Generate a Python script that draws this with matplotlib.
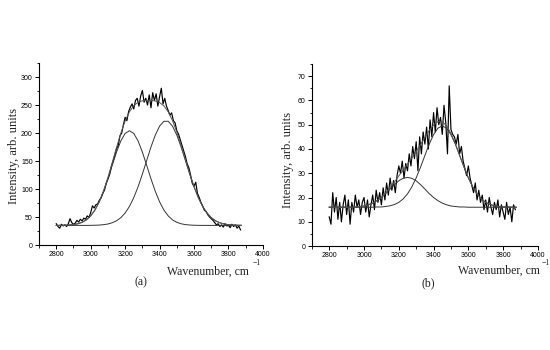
import matplotlib
matplotlib.use("Agg")
import matplotlib.pyplot as plt
from matplotlib.ticker import MultipleLocator

# ---------------- data ----------------
# fit curves sampled every 25 cm^-1 from 2800 to 3875
fit_x = list(range(2800, 3876, 25))

a_comp1 = [35.0, 35.1, 35.3, 35.7, 36.4, 37.9, 40.5, 44.9, 52.0, 62.5, 77.1, 95.9,
           118.2, 142.3, 166.0, 185.9, 199.3, 204.0, 199.3, 185.9, 166.0, 142.3,
           118.2, 95.9, 77.1, 62.5, 52.0, 44.9, 40.5, 37.9, 36.4, 35.7, 35.3, 35.1,
           35.0, 35.0, 35.0, 35.0, 35.0, 35.0, 35.0, 35.0, 35.0, 35.0]
a_comp2 = [35.0, 35.0, 35.0, 35.0, 35.0, 35.0, 35.0, 35.0, 35.1, 35.3, 35.6, 36.3,
           37.5, 39.7, 43.2, 48.8, 57.2, 68.9, 84.5, 103.9, 126.5, 150.9, 175.0,
           196.3, 212.3, 220.9, 220.9, 212.3, 196.3, 175.0, 150.9, 126.5, 103.9,
           84.5, 68.9, 57.2, 48.8, 43.2, 39.7, 37.5, 36.3, 35.6, 35.3, 35.1]
a_total = [35.0, 35.1, 35.3, 35.7, 36.4, 37.9, 40.5, 44.9, 52.1, 62.8, 77.7, 97.2,
           120.7, 147.0, 174.2, 199.7, 221.5, 237.9, 248.8, 254.8, 257.5, 258.2,
           258.2, 257.2, 254.4, 248.4, 237.9, 222.2, 201.8, 177.9, 152.3, 127.2,
           104.2, 84.6, 68.9, 57.2, 48.8, 43.2, 39.7, 37.5, 36.3, 35.6, 35.3, 35.1]

b_comp1 = [16.0, 16.0, 16.0, 16.0, 16.0, 16.1, 16.1, 16.3, 16.5, 17.0, 17.7, 18.7,
           20.0, 21.6, 23.5, 25.3, 26.9, 27.9, 28.3, 27.9, 26.9, 25.3, 23.5, 21.6,
           20.0, 18.7, 17.7, 17.0, 16.5, 16.3, 16.1, 16.1, 16.0, 16.0, 16.0, 16.0,
           16.0, 16.0, 16.0, 16.0, 16.0, 16.0, 16.0, 16.0]
b_comp2 = [16.0, 16.0, 16.0, 16.0, 16.0, 16.0, 16.0, 16.0, 16.0, 16.0, 16.0, 16.1,
           16.1, 16.3, 16.6, 17.1, 18.0, 19.4, 21.5, 24.4, 28.1, 32.5, 37.3, 42.0,
           45.9, 48.6, 49.5, 48.6, 45.9, 42.0, 37.3, 32.5, 28.1, 24.4, 21.5, 19.4,
           18.0, 17.1, 16.6, 16.3, 16.1, 16.1, 16.0, 16.0]
b_total = [16.0, 16.0, 16.0, 16.0, 16.0, 16.1, 16.1, 16.3, 16.5, 17.0, 17.7, 18.8,
           20.1, 21.9, 24.1, 26.4, 28.9, 31.3, 33.8, 36.3, 39.0, 41.8, 44.8, 47.6,
           49.9, 51.3, 51.2, 49.6, 46.4, 42.3, 37.4, 32.6, 28.1, 24.4, 21.5, 19.4,
           18.0, 17.1, 16.6, 16.3, 16.1, 16.1, 16.0, 16.0]

# measured spectra sampled every 10 cm^-1 from 2800 to 3870
data_x = list(range(2800, 3871, 10))

a_data = [38, 33, 30, 37, 34, 36, 33, 38, 47, 40, 37, 39, 44, 41, 46, 43, 48, 46,
          52, 49, 58, 70, 66, 72, 73, 80, 84, 92, 98, 110, 118, 126, 140, 150,
          160, 172, 178, 195, 200, 215, 228, 222, 238, 246, 252, 243, 258, 262,
          248, 266, 276, 255, 262, 250, 268, 245, 272, 258, 270, 248, 265, 280,
          252, 262, 248, 240, 232, 236, 222, 218, 204, 198, 188, 178, 168, 158,
          145, 138, 125, 110, 105, 112, 92, 85, 76, 70, 62, 60, 54, 50, 47, 44,
          40, 36, 38, 33, 36, 32, 38, 34, 35, 31, 37, 33, 36, 30, 34, 27]

b_data = [12, 9, 22, 14, 20, 11, 18, 10, 17, 21, 13, 19, 9, 18, 14, 21, 16, 19,
          13, 18, 20, 14, 19, 12, 17, 21, 15, 23, 18, 22, 17, 24, 19, 26, 21, 28,
          23, 27, 22, 29, 33, 30, 35, 28, 34, 31, 38, 33, 41, 36, 43, 31, 45, 38,
          47, 42, 49, 40, 52, 45, 55, 47, 57, 50, 53, 46, 58, 51, 38, 66, 48, 46,
          45, 42, 46, 38, 41, 35, 32, 29, 33, 28, 25, 22, 26, 19, 23, 18, 21, 15,
          19, 14, 20, 16, 13, 18, 15, 19, 12, 17, 14, 11, 18, 13, 16, 10, 17, 15]

x_ticks = [2800, 3000, 3200, 3400, 3600, 3800, 4000]

# ---------------- figure ----------------
W, H = 550.0, 350.0
fig = plt.figure(figsize=(5.5, 3.5), dpi=100)
ax_a = fig.add_axes([0.071, 0.30, 0.407, 0.52])
ax_b = fig.add_axes([0.567, 0.297, 0.411, 0.520])

tick_family = "Liberation Sans"
serif = "Liberation Serif"
txt_color = "#222222"


def style(ax, ylim, ymajor):
    ax.set_xlim(2700, 4000)
    ax.set_ylim(*ylim)
    for s in ("top", "right"):
        ax.spines[s].set_visible(False)
    for s in ("left", "bottom"):
        ax.spines[s].set_linewidth(0.8)
    ax.set_xticks(x_ticks)
    ax.xaxis.set_minor_locator(MultipleLocator(100))
    ax.yaxis.set_major_locator(MultipleLocator(ymajor))
    ax.yaxis.set_minor_locator(MultipleLocator(ymajor / 2))
    ax.tick_params(which="major", direction="out", length=3, width=0.7, pad=1.5)
    ax.tick_params(which="minor", direction="out", length=1.8, width=0.6)
    for lab in ax.get_xticklabels() + ax.get_yticklabels():
        lab.set_fontfamily(tick_family)
        lab.set_fontsize(5)


# panel (a)
ax_a.plot(data_x, a_data, color="black", lw=0.85)
ax_a.plot(fit_x, a_comp1, color="#333333", lw=0.7)
ax_a.plot(fit_x, a_comp2, color="#333333", lw=0.7)
ax_a.plot(fit_x, a_total, color="#555555", lw=0.7)
style(ax_a, (0, 325), 50)

# panel (b)
ax_b.plot(data_x, b_data, color="black", lw=0.85)
ax_b.plot(fit_x, b_comp1, color="#333333", lw=0.7)
ax_b.plot(fit_x, b_comp2, color="#333333", lw=0.7)
ax_b.plot(fit_x, b_total, color="#555555", lw=0.7)
style(ax_b, (0, 75), 10)


def put(xp, yp, s, **kw):
    fig.text(xp / W, 1 - yp / H, s, fontfamily=serif, color=txt_color, **kw)


# y labels
put(14, 156, "Intensity, arb. units", rotation=90, ha="center", va="center",
    fontsize=9)
put(288, 160, "Intensity, arb. units", rotation=90, ha="center", va="center",
    fontsize=9)
# x labels (superscript drawn high and offset as in the reference)
put(249, 272, "Wavenumber, cm", ha="right", va="center", fontsize=8.5)
put(257, 263, "\u22121", ha="center", va="center", fontsize=5.5)
put(540, 271, "Wavenumber, cm", ha="right", va="center", fontsize=8.5)
put(546, 263, "\u22121", ha="center", va="center", fontsize=5.5)
# panel tags
put(141, 282, "(a)", ha="center", va="center", fontsize=8.5)
put(428, 283, "(b)", ha="center", va="center", fontsize=8.5)

fig.savefig("out.png", dpi=100)
